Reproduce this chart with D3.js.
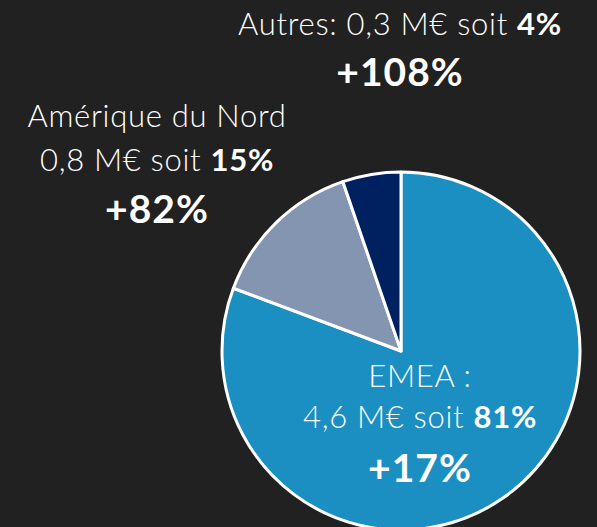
<!DOCTYPE html>
<html>
<head>
<meta charset="utf-8">
<script src="https://cdn.jsdelivr.net/npm/d3@7"></script>
<style>
  html, body { margin: 0; padding: 0; background: #212121; }
  svg { display: block; }
</style>
</head>
<body>
<svg id="chart" width="597" height="527"></svg>
<script>
// Regions and revenue (M€)
var regions = ["EMEA", "Amérique du Nord", "Autres"];
var values = [4.6, 0.8, 0.3];
var amounts = ["4,6", "0,8", "0,3"];
var shares = ["81%", "15%", "4%"];
var growth = ["+17%", "+82%", "+108%"];

var colors = ["#1b8ec2", "#8395b0", "#00215f"];

var svg = d3.select("#chart"),
    width = +svg.attr("width"),
    height = +svg.attr("height");

var cx = 401, cy = 351, radius = 179;

var data = regions.map(function (r, i) {
    return { name: r, value: values[i], amount: amounts[i], share: shares[i], growth: growth[i], color: colors[i] };
});

var pie = d3.pie()
    .sort(null)
    .value(function (d) { return d.value; });

var arc = d3.arc()
    .innerRadius(0)
    .outerRadius(radius);

var g = svg.append("g")
    .attr("transform", "translate(" + cx + "," + cy + ")");

g.selectAll("path")
    .data(pie(data))
    .enter().append("path")
    .attr("d", arc)
    .attr("fill", function (d) { return d.data.color; })
    .attr("stroke", "#fff")
    .attr("stroke-width", 3)
    .attr("stroke-linejoin", "round");

// label blocks: line 1 / line 2 (amount + bold share) / growth
var font = "Lato, 'Noto Sans', sans-serif";
var labelPos = [
    { x: 420, lines: [387, 428, 482], first: "EMEA :" },
    { x: 157, lines: [127, 171, 223], first: "Amérique du Nord" },
    { x: 400, lines: [35, null, 86], first: null }
];
var textSize = 31, growthSize = 39;

data.forEach(function (d, i) {
    var p = labelPos[i];
    var t = svg.append("g")
        .attr("fill", "#fff")
        .attr("font-family", font)
        .attr("text-anchor", "middle");

    var line2;
    if (p.lines[1] !== null) {
        t.append("text")
            .attr("x", p.x)
            .attr("y", p.lines[0])
            .attr("font-size", textSize)
            .attr("font-weight", 300)
            .attr("letter-spacing", 0.7)
            .text(p.first);
        line2 = t.append("text").attr("y", p.lines[1]);
        line2.append("tspan").text(d.amount + " M€ soit ");
    } else {
        line2 = t.append("text").attr("y", p.lines[0]);
        line2.append("tspan").text(d.name + ": " + d.amount + " M€ soit ");
    }
    line2.attr("x", p.x)
        .attr("font-size", textSize)
        .attr("font-weight", 300)
        .attr("letter-spacing", 0.7);
    line2.append("tspan").attr("font-weight", 700).text(d.share);

    t.append("text")
        .attr("x", p.x)
        .attr("y", p.lines[2])
        .attr("font-size", growthSize)
        .attr("font-weight", 700)
        .attr("letter-spacing", 1)
        .text(d.growth);
});
</script>
</body>
</html>
